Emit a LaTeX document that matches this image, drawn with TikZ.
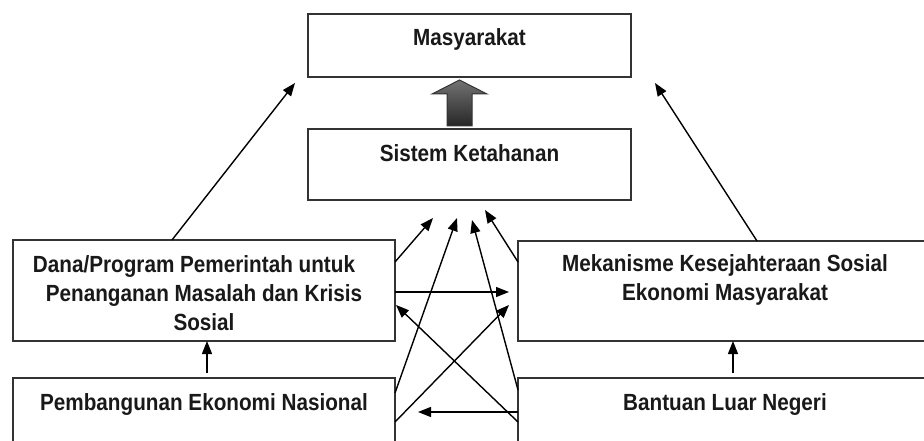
\documentclass[tikz,border=0pt]{standalone}
\usepackage{fontspec}
\usepackage{graphicx}
\setmainfont{Liberation Sans}
\usetikzlibrary{arrows.meta}
\newcommand{\vst}[1]{\scalebox{1}[1.13]{#1}}
\begin{document}
\begin{tikzpicture}[x=1pt,y=-1pt,
  boxstyle/.style={draw=black!80,line width=1.6pt,inner sep=0pt},
  lbl/.style={font=\fontsize{20.7}{29}\selectfont\bfseries,inner sep=0pt,align=center,text=black!90},
  conn/.style={line width=1.4pt,-{Triangle[length=13pt,width=10pt]}}]
\path[use as bounding box,clip] (0,0) rectangle (924,441);
\fill[white] (0,0) rectangle (924,441);
% boxes
\node[boxstyle,minimum width=323pt,minimum height=63pt] (mas) at (469.5,45.5) {};
\node[boxstyle,minimum width=323pt,minimum height=71pt] (sis) at (469.5,164.5) {};
\node[boxstyle,minimum width=382pt,minimum height=101pt] (dana) at (204,290.5) {};
\node[boxstyle,minimum width=382pt,minimum height=90pt] (pemb) at (204,423) {};
\node[boxstyle,minimum width=417pt,minimum height=100pt] (mek) at (726.5,291) {};
\node[boxstyle,minimum width=417pt,minimum height=90pt] (ban) at (726.5,423) {};
% texts
\node[lbl,anchor=base] (tmas) at (469.5,46) {\vst{Masyarakat}};
\node[lbl,anchor=base] (tsis) at (469.5,162) {\vst{Sistem Ketahanan}};
\node[lbl] (tdana) at (204,293) {\vst{Dana/Program Pemerintah untuk\hspace*{20pt}}\\\vst{Penanganan Masalah dan Krisis}\\\vst{Sosial}};
\node[lbl] (tmek) at (725,280) {\vst{Mekanisme Kesejahteraan Sosial}\\\vst{Ekonomi Masyarakat}};
\node[lbl,anchor=base] (tpemb) at (204,410) {\vst{Pembangunan Ekonomi Nasional}};
\node[lbl,anchor=base] (tban) at (725,410) {\vst{Bantuan Luar Negeri}};
% block arrow
\shade[top color=black!55,bottom color=black!85,draw=black!80,line width=1pt]
  (447,126) -- (447,94) -- (432,94) -- (459.5,80) -- (487,94) -- (472,94) -- (472,126) -- cycle;
% coordinates
\coordinate (d1) at (172,240);   \coordinate (m1) at (295,83);
\coordinate (k1) at (757,241);   \coordinate (m2) at (655,83);
\coordinate (p1) at (207,373);   \coordinate (d2) at (207,341);
\coordinate (b1) at (733,373);   \coordinate (k2) at (733,341);
\coordinate (d3) at (395,262);   \coordinate (s1) at (433,218);
\coordinate (p2) at (395,393);   \coordinate (s2) at (457,218);
\coordinate (b2) at (518,390);   \coordinate (s3) at (472,220);
\coordinate (k3) at (518,262);   \coordinate (s4) at (485,210);
\coordinate (d4) at (395,292);   \coordinate (k4) at (509,292);
\coordinate (b3) at (518,422);   \coordinate (d5) at (396,305);
\coordinate (p3) at (395,422);   \coordinate (k5) at (509,305);
\coordinate (b4) at (518,412);   \coordinate (p4) at (418,412);
% connectors
\draw[conn] (d1) -- (m1);
\draw[conn] (k1) -- (m2);
\draw[conn] (p1) -- (d2);
\draw[conn] (b1) -- (k2);
\draw[conn] (d3) -- (s1);
\draw[conn] (p2) -- (s2);
\draw[conn] (b2) -- (s3);
\draw[conn] (k3) -- (s4);
\draw[conn] (d4) -- (k4);
\draw[conn] (b3) -- (d5);
\draw[conn] (p3) -- (k5);
\draw[conn] (b4) -- (p4);
\end{tikzpicture}
\end{document}
